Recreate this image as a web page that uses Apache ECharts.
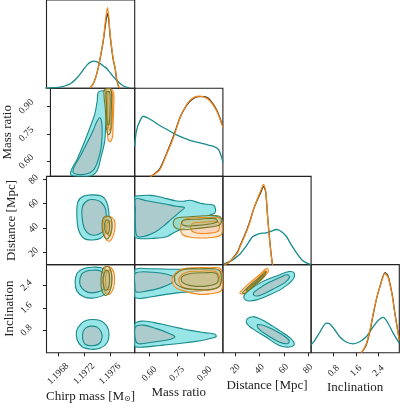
<!DOCTYPE html>
<html>
<head>
<meta charset="utf-8">
<script src="https://cdn.jsdelivr.net/npm/echarts@6/dist/echarts.min.js"></script>
<style>
  html, body { margin: 0; padding: 0; background: #fff; }
  #chart { width: 400px; height: 409px; }
</style>
</head>
<body>
<div id="chart"></div>
<script>
// ---- parameters -------------------------------------------------------
const paramNames = ['Chirp mass [M{sub|⊙}]', 'Mass ratio', 'Distance [Mpc]', 'Inclination'];
const paramRanges = [[1.19662, 1.19798], [0.52, 1.0], [9.8, 82.5], [0, 3.14]];
const paramTicks = [[1.1968, 1.1972, 1.1976], [0.60, 0.75, 0.90], [20, 40, 60, 80], [0.8, 1.6, 2.4]];
const tickDigits = [4, 2, 0, 1];

// ---- 1D marginals: [value, density] -----------------------------------
const chirpTeal = [[1.1966,0.1],[1.1968,0.8],[1.1969,2.2],[1.197,5],[1.1971,11],[1.19715,15],[1.1972,19.5],[1.19725,23.5],[1.1973,26],[1.19735,27],[1.1974,26.3],[1.19745,24.5],[1.1975,22],[1.19755,19.7],[1.1976,15.5],[1.19765,11.5],[1.1977,8],[1.1978,2.5],[1.1979,0.4]];
const chirpOrange = [[1.19729,0],[1.19734,4.5],[1.19738,11],[1.19742,21],[1.19746,35],[1.19749,46],[1.19751,56],[1.19753,68],[1.19756,80.5],[1.19758,72],[1.1976,55],[1.19763,38],[1.19765,29],[1.19768,20],[1.1977,10],[1.19773,2],[1.19775,0]];
const chirpDark = [[1.19729,0],[1.19734,4.5],[1.19738,11],[1.19742,21],[1.19746,34],[1.19749,45],[1.19751,54],[1.19753,64],[1.19756,74.5],[1.19758,68],[1.1976,53],[1.19763,37],[1.19765,28],[1.19768,19],[1.1977,9.5],[1.19773,2],[1.19775,0]];

const ratioTeal = [[0.52,30],[0.522,35],[0.529,45],[0.545,54],[0.567,60],[0.594,58],[0.622,55],[0.654,51],[0.694,47],[0.736,42.5],[0.785,38.5],[0.829,35.5],[0.876,33.5],[0.916,31.5],[0.949,30],[0.976,27],[0.994,18.5],[1.0,14]];
const ratioOrange = [[0.604,0],[0.627,2],[0.658,7],[0.694,22],[0.731,38.5],[0.767,58.5],[0.803,72],[0.834,78],[0.867,80],[0.9,79],[0.931,75],[0.967,65],[0.994,52],[1.0,49]];
const ratioDark = [[0.604,0],[0.627,2.5],[0.658,8],[0.694,23],[0.731,40],[0.767,59],[0.803,71],[0.834,77],[0.867,79.5],[0.9,79.5],[0.931,76],[0.967,66],[0.994,53],[1.0,50]];

const distTeal = [[10,0.5],[11.2,1],[17,4],[23.5,10],[29.3,19],[34.5,28],[40,31],[45.5,31.7],[49.9,33.5],[53.7,35],[57.3,33.5],[62,28.3],[66.3,19.5],[71.5,10],[75.4,4],[79.8,1],[82.5,0.3]];
const distOrange = [[11,0],[14,1.5],[18,6],[22,12],[24,18],[28,29],[32,42],[35,55],[38,65],[41,74],[43.3,80],[45,74],[46.8,45],[48.8,18],[50.5,1],[51,0]];
const distDark = [[11,0],[14,1.5],[18,6.5],[22,13],[24,19],[28,30],[32,43],[35,55],[38,64],[41,72],[43.3,78],[45,73],[46.8,46],[48.8,19],[50.5,1.5],[51,0]];

const inclTeal = [[0,8],[0.12,12],[0.3,20],[0.54,29.7],[0.66,29],[0.84,23],[1.01,16.3],[1.23,11],[1.49,9],[1.73,11],[1.97,16.3],[2.16,24],[2.38,32],[2.57,35.3],[2.73,30],[2.92,19.7],[3.14,9.7]];
const inclOrange = [[1.79,0],[1.95,8],[2.09,22],[2.21,39],[2.33,54],[2.45,65.7],[2.63,79],[2.73,76],[2.8,69],[2.9,55],[2.98,39],[3.14,12.3]];
const inclDark = [[1.79,0],[1.95,7],[2.09,21],[2.21,38],[2.33,54],[2.45,66],[2.63,80],[2.73,77],[2.8,70],[2.9,56],[2.98,40],[3.14,13]];

// ---- 2D credible contours (outer / inner level) -----------------------
// mass ratio vs chirp mass
const cmQTealOuter = [[1.197395,0.979],[1.197487,0.986],[1.197549,0.974],[1.197538,0.893],[1.197512,0.803],[1.197497,0.713],[1.197435,0.623],[1.197374,0.551],[1.197281,0.524],[1.197077,0.519],[1.196949,0.530],[1.196965,0.560],[1.197051,0.614],[1.197154,0.695],[1.197257,0.785],[1.197334,0.857],[1.197374,0.929]];
const cmQTealInner = [[1.197415,0.839],[1.197446,0.817],[1.197454,0.747],[1.197438,0.677],[1.197392,0.612],[1.197323,0.558],[1.197215,0.534],[1.197061,0.531],[1.196985,0.542],[1.197015,0.580],[1.197108,0.634],[1.197215,0.704],[1.197308,0.769],[1.197369,0.817]];
const cmQOrangeOuter = [[1.197518,0.992],[1.1976,0.996],[1.197641,0.974],[1.197641,0.893],[1.197631,0.803],[1.19762,0.731],[1.19758,0.710],[1.197549,0.722],[1.197538,0.785],[1.197527,0.893],[1.197512,0.965]];
const cmQOrangeInner = [[1.197554,0.979],[1.197615,0.979],[1.197623,0.882],[1.197607,0.785],[1.197577,0.769],[1.197554,0.801],[1.197546,0.909]];
const cmQOliveOuter = [[1.197492,0.993],[1.197584,0.996],[1.197607,0.963],[1.1976,0.855],[1.197592,0.763],[1.197554,0.747],[1.197523,0.785],[1.197507,0.882],[1.197484,0.963]];
const cmQOliveInner = [[1.197523,0.979],[1.197577,0.979],[1.197581,0.882],[1.197566,0.801],[1.197538,0.807],[1.197526,0.909]];

// distance vs chirp mass
const cmDTealOuter = [[1.197334,67.3],[1.197487,65.7],[1.197564,58.7],[1.197584,47.3],[1.197546,37.4],[1.197461,31.7],[1.197334,30.1],[1.1972,31.3],[1.197115,38.3],[1.197088,50.5],[1.197103,61.2],[1.197185,66.1]];
const cmDTealInner = [[1.197261,62.8],[1.197369,63.2],[1.197461,61.2],[1.197531,55.5],[1.197538,45.6],[1.197507,38.3],[1.197415,34.6],[1.197292,34.6],[1.197208,39.1],[1.197169,48.9],[1.197177,57.9]];
const cmDOrangeOuter = [[1.197538,48.9],[1.197631,48.5],[1.197677,44.0],[1.197661,35.8],[1.1976,29.3],[1.197546,30.1],[1.197507,35.8],[1.197492,43.2]];
const cmDOrangeInner = [[1.197569,45.6],[1.197615,45.2],[1.197631,39.9],[1.1976,33.4],[1.197569,34.2],[1.197546,39.9]];
const cmDOliveOuter = [[1.197515,49.3],[1.1976,48.9],[1.197631,43.2],[1.197607,35.0],[1.197554,30.9],[1.1975,34.2],[1.197477,40.7],[1.197484,46.4]];
const cmDOliveInner = [[1.197538,46.4],[1.197581,46.0],[1.197592,39.9],[1.197566,35.0],[1.197531,36.6],[1.197515,42.4]];

// inclination vs chirp mass (two lobes for teal)
const cmITealOuterHi = [[1.197323,3.047],[1.197461,3.029],[1.197561,2.903],[1.1976,2.616],[1.197584,2.294],[1.197507,2.061],[1.197354,1.953],[1.1972,1.989],[1.197092,2.186],[1.197061,2.509],[1.197092,2.832],[1.197185,2.993]];
const cmITealInnerHi = [[1.197323,2.939],[1.197446,2.921],[1.197515,2.760],[1.197531,2.509],[1.197492,2.258],[1.197384,2.151],[1.197261,2.151],[1.197169,2.294],[1.197131,2.509],[1.197161,2.796],[1.197231,2.903]];
const cmITealOuterLo = [[1.197323,1.183],[1.197446,1.147],[1.197546,0.968],[1.197584,0.681],[1.197554,0.358],[1.197446,0.161],[1.197308,0.125],[1.197169,0.215],[1.197092,0.466],[1.197085,0.789],[1.197154,1.039],[1.197231,1.147]];
const cmITealInnerLo = [[1.197308,0.950],[1.1974,0.914],[1.197461,0.753],[1.197477,0.538],[1.197431,0.323],[1.197323,0.251],[1.197215,0.305],[1.197177,0.502],[1.197185,0.753],[1.197231,0.896]];
const cmIOrangeOuter = [[1.197538,3.065],[1.197615,3.029],[1.197661,2.832],[1.197669,2.509],[1.197638,2.222],[1.197577,2.079],[1.197523,2.151],[1.1975,2.437],[1.1975,2.796]];
const cmIOrangeInner = [[1.197561,2.939],[1.197615,2.903],[1.197631,2.616],[1.197615,2.330],[1.197577,2.240],[1.197538,2.366],[1.197531,2.652]];
const cmIOliveOuter = [[1.197507,3.047],[1.197584,3.047],[1.197623,2.796],[1.197623,2.437],[1.197584,2.133],[1.197523,2.043],[1.197469,2.258],[1.197461,2.616],[1.197477,2.903]];
const cmIOliveInner = [[1.197531,2.921],[1.197577,2.903],[1.197592,2.616],[1.197577,2.330],[1.197538,2.222],[1.1975,2.366],[1.197492,2.652]];

// distance vs mass ratio
const qDTealOuter = [[0.518,65.3],[0.540,66.5],[0.604,66.9],[0.655,65.7],[0.694,64.2],[0.742,62.4],[0.785,62.0],[0.822,62.8],[0.877,60.4],[0.916,59.5],[0.949,58.7],[0.960,55.5],[0.955,52.2],[0.927,50.5],[0.971,49.3],[0.987,46.4],[0.982,43.2],[0.927,42.4],[0.877,41.9],[0.829,40.7],[0.785,39.7],[0.731,35.8],[0.694,32.8],[0.622,31.4],[0.540,31.3],[0.518,33.4]];
const qDTealInner = [[0.526,64.0],[0.584,62.4],[0.676,60.0],[0.747,57.9],[0.791,56.7],[0.764,53.0],[0.720,47.3],[0.676,41.5],[0.627,36.2],[0.567,32.9],[0.532,33.4],[0.524,43.2],[0.524,55.5]];
const qDOrangeOuter = [[0.807,47.7],[0.873,48.5],[0.938,48.5],[0.990,47.7],[0.996,41.5],[0.990,34.2],[0.933,32.1],[0.873,31.7],[0.818,32.5],[0.780,34.6],[0.769,39.9],[0.780,45.6]];
const qDOrangeInner = [[0.840,44.0],[0.900,44.8],[0.971,45.2],[0.982,41.5],[0.971,37.0],[0.900,35.4],[0.846,36.2],[0.824,39.9]];
const qDOliveOuter = [[0.742,47.7],[0.818,49.3],[0.900,50.1],[0.971,50.1],[0.993,47.3],[0.982,42.4],[0.900,40.3],[0.829,39.1],[0.764,38.7],[0.731,42.4]];
const qDOliveInner = [[0.785,46.4],[0.873,47.3],[0.955,47.7],[0.971,45.2],[0.927,43.2],[0.846,41.9],[0.791,41.9],[0.775,44.0]];

// inclination vs mass ratio
const qITealOuterHi = [[0.518,2.939],[0.604,2.993],[0.731,2.975],[0.877,2.975],[0.955,2.957],[0.990,2.867],[0.993,2.581],[0.976,2.330],[0.877,2.204],[0.749,2.133],[0.622,2.007],[0.549,1.935],[0.518,2.007]];
const qITealInnerHi = [[0.524,2.832],[0.622,2.867],[0.682,2.814],[0.720,2.742],[0.742,2.616],[0.720,2.473],[0.660,2.312],[0.589,2.204],[0.529,2.168],[0.521,2.437]];
const qITealOuterLo = [[0.518,1.004],[0.556,1.129],[0.627,1.075],[0.694,0.978],[0.764,0.878],[0.822,0.799],[0.900,0.717],[0.957,0.663],[0.963,0.573],[0.927,0.502],[0.877,0.430],[0.785,0.348],[0.658,0.262],[0.549,0.197],[0.518,0.251]];
const qITealInnerLo = [[0.524,0.914],[0.567,0.986],[0.638,0.860],[0.698,0.717],[0.739,0.573],[0.709,0.473],[0.622,0.384],[0.540,0.323],[0.524,0.466]];
const qIOrangeOuter = [[0.731,2.760],[0.775,2.975],[0.846,3.029],[0.927,3.029],[0.987,2.993],[0.996,2.616],[0.990,2.204],[0.927,2.097],[0.873,2.079],[0.796,2.186],[0.742,2.330],[0.723,2.545]];
const qIOrangeInner = [[0.764,2.688],[0.802,2.867],[0.873,2.903],[0.955,2.903],[0.979,2.760],[0.979,2.366],[0.927,2.240],[0.846,2.240],[0.785,2.330],[0.764,2.473]];
const qIOliveOuter = [[0.742,2.796],[0.791,2.975],[0.873,2.993],[0.955,2.993],[0.985,2.903],[0.985,2.401],[0.938,2.258],[0.846,2.258],[0.791,2.294],[0.747,2.437],[0.736,2.616]];
const qIOliveInner = [[0.775,2.688],[0.818,2.814],[0.900,2.850],[0.966,2.814],[0.971,2.509],[0.916,2.384],[0.829,2.384],[0.780,2.509]];

// inclination vs distance
const dITealOuterHi = [[27.4,2.054],[31.5,2.233],[42.5,2.534],[56.2,2.771],[64.4,2.892],[68.6,2.832],[67.2,2.591],[58.9,2.294],[48.0,2.054],[37.0,1.875],[30.1,1.853],[27.4,1.935]];
const dITealInnerHi = [[35.1,2.133],[41.6,2.348],[49.9,2.545],[58.1,2.706],[63.0,2.778],[64.7,2.688],[60.6,2.491],[52.3,2.294],[44.1,2.115],[38.4,2.025],[35.5,2.043]];
const dITealOuterLo = [[30.1,1.219],[35.6,1.280],[45.2,1.100],[56.2,0.799],[65.8,0.502],[68.6,0.297],[64.4,0.204],[56.2,0.262],[45.2,0.563],[34.2,0.860],[29.3,1.065]];
const dITealInnerLo = [[38.4,1.004],[46.6,0.921],[57.5,0.681],[64.4,0.441],[63.0,0.323],[56.2,0.384],[46.6,0.620],[39.2,0.860]];
const dIOrangeOuter = [[23.8,2.140],[31.5,2.473],[39.8,2.771],[46.0,3.011],[47.2,2.892],[41.1,2.591],[32.8,2.294],[26.0,2.090]];
const dIOrangeInner = [[28.5,2.258],[38.4,2.652],[44.9,2.921],[45.8,2.867],[39.2,2.581],[29.3,2.222]];
const dIOliveOuter = [[26.0,2.140],[34.2,2.473],[42.5,2.771],[45.2,2.892],[43.9,2.735],[35.6,2.412],[28.2,2.115]];
const dIOliveInner = [[29.3,2.240],[37.5,2.545],[43.3,2.778],[44.1,2.724],[37.9,2.473],[30.1,2.186]];

// ---- styling ----------------------------------------------------------
const serif = '"Liberation Serif", "DejaVu Serif", serif';
const ink = '#222';
const palette = {
  teal:   { line: '#178a8b', outer: 'rgba(95,215,218,0.65)', inner: 'rgba(178,196,199,0.8)' },
  orange: { line: '#f08a1c', outer: 'rgba(252,214,180,0.6)', inner: 'rgba(248,196,160,0.5)' },
  olive:  { line: '#6f7a2c', outer: 'rgba(170,180,90,0.2)', inner: 'rgba(150,165,80,0.2)' }
};
const darkLine = '#4a3a24';

const left0 = 46.5, top0 = 0, cell = 88.2;
const xLabelMargin = [21, 21, 16, 18];
const yLabelMargin = [0, 24, 13, 20];
const xNameGap = [26, 18, 22, 23];
const yNameGap = [0, 32, 28, 29];

const marginals = [
  [chirpTeal, chirpOrange, chirpDark],
  [ratioTeal, ratioOrange, ratioDark],
  [distTeal, distOrange, distDark],
  [inclTeal, inclOrange, inclDark]
];

// [row, col, series, level, points]
const contourList = [
  [1, 0, 'teal', 'outer', cmQTealOuter], [1, 0, 'teal', 'inner', cmQTealInner],
  [1, 0, 'orange', 'outer', cmQOrangeOuter], [1, 0, 'orange', 'inner', cmQOrangeInner],
  [1, 0, 'olive', 'outer', cmQOliveOuter], [1, 0, 'olive', 'inner', cmQOliveInner],
  [2, 0, 'teal', 'outer', cmDTealOuter], [2, 0, 'teal', 'inner', cmDTealInner],
  [2, 0, 'orange', 'outer', cmDOrangeOuter], [2, 0, 'orange', 'inner', cmDOrangeInner],
  [2, 0, 'olive', 'outer', cmDOliveOuter], [2, 0, 'olive', 'inner', cmDOliveInner],
  [3, 0, 'teal', 'outer', cmITealOuterHi], [3, 0, 'teal', 'inner', cmITealInnerHi],
  [3, 0, 'teal', 'outer', cmITealOuterLo], [3, 0, 'teal', 'inner', cmITealInnerLo],
  [3, 0, 'orange', 'outer', cmIOrangeOuter], [3, 0, 'orange', 'inner', cmIOrangeInner],
  [3, 0, 'olive', 'outer', cmIOliveOuter], [3, 0, 'olive', 'inner', cmIOliveInner],
  [2, 1, 'teal', 'outer', qDTealOuter], [2, 1, 'teal', 'inner', qDTealInner],
  [2, 1, 'orange', 'outer', qDOrangeOuter], [2, 1, 'orange', 'inner', qDOrangeInner],
  [2, 1, 'olive', 'outer', qDOliveOuter], [2, 1, 'olive', 'inner', qDOliveInner],
  [3, 1, 'teal', 'outer', qITealOuterHi], [3, 1, 'teal', 'inner', qITealInnerHi],
  [3, 1, 'teal', 'outer', qITealOuterLo], [3, 1, 'teal', 'inner', qITealInnerLo],
  [3, 1, 'orange', 'outer', qIOrangeOuter], [3, 1, 'orange', 'inner', qIOrangeInner],
  [3, 1, 'olive', 'outer', qIOliveOuter], [3, 1, 'olive', 'inner', qIOliveInner],
  [3, 2, 'teal', 'outer', dITealOuterHi], [3, 2, 'teal', 'inner', dITealInnerHi],
  [3, 2, 'teal', 'outer', dITealOuterLo], [3, 2, 'teal', 'inner', dITealInnerLo],
  [3, 2, 'orange', 'outer', dIOrangeOuter], [3, 2, 'orange', 'inner', dIOrangeInner],
  [3, 2, 'olive', 'outer', dIOliveOuter], [3, 2, 'olive', 'inner', dIOliveInner]
];

// ---- build the corner layout ------------------------------------------
const panels = [];
for (let r = 0; r < 4; r++) for (let c = 0; c <= r; c++) panels.push([r, c]);
const gridOf = (r, c) => panels.findIndex(p => p[0] === r && p[1] === c);

const grids = [], xAxes = [], yAxes = [], series = [];

panels.forEach(([r, c], g) => {
  grids.push({
    left: left0 + c * cell, top: top0 + r * cell, width: cell, height: cell,
    show: true, borderColor: ink, borderWidth: 1.1, backgroundColor: 'transparent'
  });

  const bottom = r === 3;
  xAxes.push({
    gridIndex: g, type: 'value', min: paramRanges[c][0], max: paramRanges[c][1],
    axisLine: { show: false }, splitLine: { show: false },
    axisTick: { show: bottom, length: 3.5, lineStyle: { color: ink, width: 1 }, customValues: paramTicks[c] },
    axisLabel: {
      show: bottom, rotate: 45, align: 'center', verticalAlign: 'middle', margin: xLabelMargin[c],
      fontFamily: serif, fontSize: 9.5, color: ink, customValues: paramTicks[c],
      formatter: v => v.toFixed(tickDigits[c])
    },
    name: bottom ? paramNames[c] : '', nameLocation: 'middle', nameGap: xNameGap[c],
    nameTextStyle: {
      fontFamily: serif, fontSize: 13, color: ink,
      rich: { sub: { fontFamily: '"DejaVu Sans", sans-serif', fontSize: 8, color: ink, padding: [6, 0, 0, 0] } }
    }
  });

  const diag = r === c;
  const leftCol = c === 0 && !diag;
  yAxes.push({
    gridIndex: g, type: 'value',
    min: diag ? 0 : paramRanges[r][0], max: diag ? 88 : paramRanges[r][1],
    axisLine: { show: false }, splitLine: { show: false },
    axisTick: { show: leftCol, length: 3.5, lineStyle: { color: ink, width: 1 }, customValues: diag ? [] : paramTicks[r] },
    axisLabel: {
      show: leftCol, rotate: 45, align: 'center', verticalAlign: 'middle', margin: yLabelMargin[r],
      fontFamily: serif, fontSize: 9.5, color: ink, customValues: diag ? [] : paramTicks[r],
      formatter: v => v.toFixed(tickDigits[r])
    },
    name: leftCol ? paramNames[r] : '', nameLocation: 'middle', nameGap: yNameGap[r], nameRotate: 90,
    nameTextStyle: { fontFamily: serif, fontSize: 13, color: ink }
  });
});

// 2D contours, drawn as filled polygons through the axes' scales
contourList.forEach(([r, c, who, level, pts]) => {
  const g = gridOf(r, c);
  const st = palette[who];
  series.push({
    type: 'custom', xAxisIndex: g, yAxisIndex: g, clip: true, silent: true,
    data: pts,
    renderItem: (params, api) => {
      if (params.dataIndex !== 0) return { type: 'group', children: [] };
      return {
        type: 'polygon',
        shape: { points: pts.map(p => api.coord(p)), smooth: 0.35 },
        style: { fill: st[level], stroke: st.line, lineWidth: 1.1 }
      };
    }
  });
});

// 1D marginals on the diagonal
marginals.forEach(([teal, orange, dark], i) => {
  const g = gridOf(i, i);
  [[teal, palette.teal.line, 1.3], [dark, darkLine, 1.3], [orange, palette.orange.line, 1.2]].forEach(([d, col, w]) => {
    series.push({
      type: 'line', xAxisIndex: g, yAxisIndex: g, data: d, showSymbol: false, smooth: 0.25,
      silent: true, clip: true, lineStyle: { color: col, width: w }
    });
  });
});

const chart = echarts.init(document.getElementById('chart'), null, { renderer: 'canvas' });
chart.setOption({
  animation: false,
  backgroundColor: '#fff',
  grid: grids,
  xAxis: xAxes,
  yAxis: yAxes,
  series: series
});
window.addEventListener('resize', () => chart.resize());
</script>
</body>
</html>
